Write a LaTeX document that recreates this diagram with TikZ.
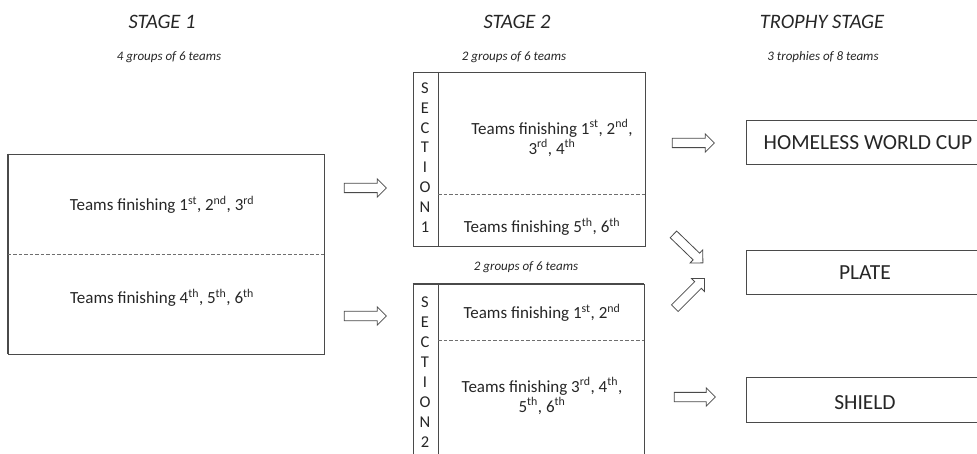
\documentclass[tikz,border=0pt]{standalone}
\usepackage{fontspec}
\setmainfont{Carlito}
\usetikzlibrary{shapes.arrows}
\definecolor{ln}{HTML}{4A4A4A}
\definecolor{tx}{HTML}{262626}
\tikzset{
  box/.style={draw=ln, line width=0.9pt, rectangle, inner sep=0pt},
  sep/.style={draw=ln!80, dashed, dash pattern=on 3.5pt off 2pt, line width=0.8pt},
  txt/.style={text=tx, inner sep=0pt, font=\fontsize{17}{20}\selectfont, align=center},
  ttl/.style={text=tx, inner sep=0pt, font=\fontsize{20.5}{24}\selectfont\itshape},
  sub/.style={text=tx, inner sep=0pt, font=\fontsize{13}{15}\selectfont\itshape},
  troph/.style={text=tx, inner sep=0pt, font=\fontsize{21.5}{26}\selectfont},
  sect/.style={text=tx, inner sep=0pt, font=\fontsize{16.5}{19.9}\selectfont, align=center},
  barrow/.style={single arrow, draw=ln, line width=0.8pt, fill=white, inner sep=0pt,
    minimum width=18pt, single arrow head extend=4.5pt, single arrow tip angle=90}
}
\newcommand{\su}[1]{\textsuperscript{#1}}
\newcommand{\shaft}{\rule{0pt}{8.5pt}}
\begin{document}
\begin{tikzpicture}[x=1pt,y=-1pt]
\useasboundingbox (0,0) rectangle (977,454);
\clip (0,0) rectangle (977,454);
% titles
\node[ttl] (t1) at (162,22) {STAGE 1};
\node[sub] (s1t) at (169,57) {4 groups of 6 teams};
\node[ttl] (t2) at (517,22) {STAGE 2};
\node[sub] (s2t) at (514,57) {2 groups of 6 teams};
\node[ttl] (t3) at (822,22) {TROPHY STAGE};
\node[sub] (s3t) at (823,57) {3 trophies of 8 teams};
% stage 1 box
\node[box, minimum width=316pt, minimum height=200pt] (b1) at (166,254) {};
\draw[ln, line width=2pt] (b1.north west) -- (b1.south west);
\draw[sep] (b1.west) -- (b1.east);
\node[txt] (b1a) at (162,205) {Teams finishing 1\su{st}, 2\su{nd}, 3\su{rd}};
\node[txt] (b1b) at (162,298) {Teams finishing 4\su{th}, 5\su{th}, 6\su{th}};
% section 1 box
\node[box, minimum width=232pt, minimum height=174pt] (c1) at (529,159) {};
\coordinate (c1i) at (438,72);
\coordinate (c1j) at (438,246);
\draw[ln, line width=0.9pt] (c1i) -- (c1j);
\coordinate (c1d) at (438,194);
\draw[sep] (c1d) -- (c1d -| c1.east);
\node[sect] (c1s) at (425,157.5) {S\\E\\C\\T\\I\\O\\N\\1};
\node[txt] (c1a) at (552,138) {Teams finishing 1\su{st}, 2\su{nd},\\3\su{rd}, 4\su{th}};
\node[txt] (c1b) at (542,227) {Teams finishing 5\su{th}, 6\su{th}};
\node[sub] (s2u) at (526,267) {2 groups of 6 teams};
% section 2 box
\node[box, minimum width=231pt, minimum height=200pt] (c2) at (528.5,384) {};
\draw[ln, line width=1.6pt] (c2.north west) -- (c2.north east);
\coordinate (c2i) at (438,284);
\coordinate (c2j) at (438,484);
\draw[ln, line width=0.9pt] (c2i) -- (c2j);
\coordinate (c2d) at (438,340);
\draw[sep] (c2d) -- (c2d -| c2.east);
\node[sect] (c2s) at (425,372) {S\\E\\C\\T\\I\\O\\N\\2};
\node[txt] (c2a) at (542,313) {Teams finishing 1\su{st}, 2\su{nd}};
\node[txt] (c2b) at (542,396) {Teams finishing 3\su{rd}, 4\su{th},\\5\su{th}, 6\su{th}};
% trophy boxes
\node[box, minimum width=260pt, minimum height=44pt] (h) at (876,142) {};
\node[box, minimum width=260pt, minimum height=44pt] (p) at (876,272) {};
\node[box, minimum width=260pt, minimum height=45pt] (sh) at (876,399.5) {};
\node[troph] (ht) at (868,143) {HOMELESS WORLD CUP};
\node[troph] (pt) at (865,273) {PLATE};
\node[troph] (sht) at (865,403) {SHIELD};
% block arrows
\node[barrow, minimum height=42pt] (a1) at (363,188) {\shaft};
\node[barrow, minimum height=42pt] (a2) at (363,316) {\shaft};
\node[barrow, minimum height=42pt] (a3) at (691,143) {\shaft};
\node[barrow, minimum height=41pt] (a4) at (692.5,397) {\shaft};
\node[barrow, minimum height=41pt, rotate=-44] (a5) at (686.5,247) {\shaft};
\node[barrow, minimum height=42pt, rotate=45] (a6) at (688,295) {\shaft};
\end{tikzpicture}
\end{document}
